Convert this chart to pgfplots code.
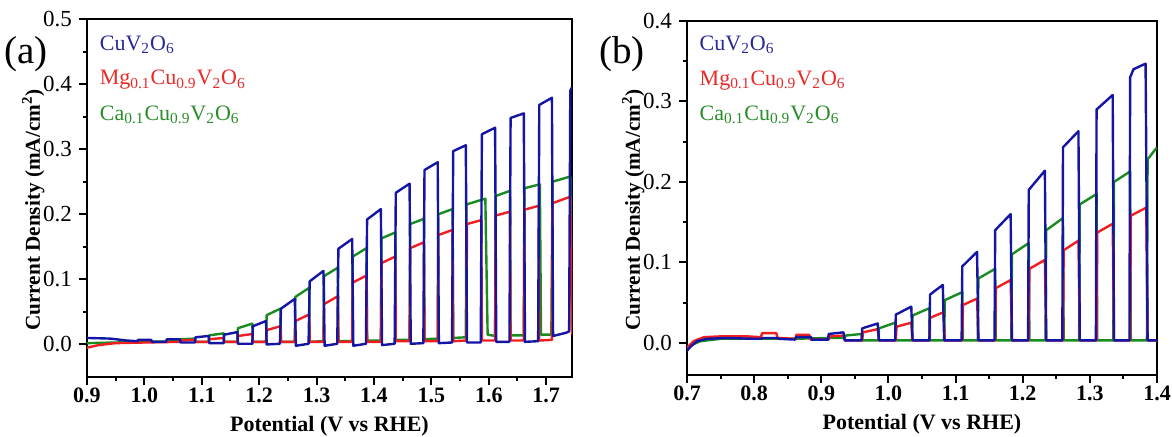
\documentclass[border=0pt]{standalone}
\usepackage{pgfplots}
\pgfplotsset{compat=1.18}
\usepackage{fontspec}
\setmainfont{Liberation Serif}
\definecolor{cblue}{RGB}{20,20,165}
\definecolor{cred}{RGB}{240,30,30}
\definecolor{cgreen}{RGB}{25,140,30}
\definecolor{tblue}{RGB}{40,40,150}
\definecolor{tred}{RGB}{235,40,40}
\definecolor{tgreen}{RGB}{40,140,40}
\pgfplotsset{
  mystyle/.style={
    scale only axis,
    axis line style={line width=1.1pt},
    tick style={black, line width=1.0pt},
    tick align=outside,
    xtick pos=bottom, ytick pos=left,
    major tick length=4pt, minor tick length=2pt,
    minor x tick num=1, minor y tick num=1,
    /pgf/number format/.cd, fixed, fixed zerofill, precision=1, assume math mode=true,
    /pgfplots/.cd,
    tick label style={font=\fontsize{11.5}{13}\selectfont},
    x tick label style={font=\fontsize{11}{13}\selectfont\bfseries, yshift=2pt},
    label style={font=\fontsize{11}{13}\selectfont\bfseries},
    xlabel style={yshift=0pt},
    ylabel style={font=\fontsize{10.6}{13}\selectfont\bfseries, yshift=-7.5pt, xshift=-6pt},
    xlabel={Potential (V vs RHE)},
    ylabel={Current Density (mA/cm\textsuperscript{2})},
    every axis plot/.append style={line width=1.2pt, no marks, line join=round},
  }
}
\begin{document}
\begin{tikzpicture}
\useasboundingbox (0,0) rectangle (586pt,218.5pt);
% ---------------- Panel (a)
\begin{axis}[mystyle,
  at={(43.5pt,30pt)}, anchor=south west,
  width=242.5pt, height=179pt,
  xmin=0.9, xmax=1.745, ymin=-0.05, ymax=0.5,
  xtick={0.9,1.0,1.1,1.2,1.3,1.4,1.5,1.6,1.7},
  ytick={0,0.1,0.2,0.3,0.4,0.5},
]
\addplot[cgreen] coordinates {
(0.900,0.002)(0.950,0.003)(1.000,0.004)(1.062,0.005)(1.063,0.008)(1.088,0.009)(1.089,0.004)
(1.112,0.004)(1.113,0.014)(1.138,0.017)(1.139,0.004)(1.162,0.004)(1.163,0.025)(1.188,0.032)
(1.189,0.004)(1.212,0.004)(1.213,0.045)(1.237,0.055)(1.238,0.004)(1.262,0.004)(1.263,0.073)
(1.287,0.087)(1.288,0.004)(1.312,0.005)(1.313,0.105)(1.337,0.118)(1.338,0.005)(1.362,0.005)
(1.363,0.135)(1.387,0.148)(1.388,0.006)(1.412,0.006)(1.413,0.163)(1.437,0.172)(1.438,0.007)
(1.462,0.007)(1.463,0.185)(1.487,0.193)(1.488,0.008)(1.511,0.009)(1.512,0.200)(1.537,0.208)
(1.538,0.010)(1.560,0.011)(1.561,0.215)(1.594,0.224)(1.598,0.015)(1.611,0.013)(1.612,0.228)
(1.637,0.236)(1.638,0.014)(1.661,0.014)(1.662,0.240)(1.689,0.246)(1.691,0.015)(1.709,0.015)
(1.711,0.250)(1.742,0.258)(1.745,0.020)
};
\addplot[cred] coordinates {
(0.900,-0.005)(0.920,-0.001)(0.950,0.002)(1.000,0.003)(1.062,0.004)(1.063,0.006)(1.088,0.007)
(1.089,0.004)(1.112,0.004)(1.113,0.008)(1.138,0.010)(1.139,0.004)(1.162,0.004)(1.163,0.013)
(1.188,0.016)(1.189,0.004)(1.212,0.004)(1.213,0.022)(1.237,0.028)(1.238,0.004)(1.262,0.004)
(1.263,0.036)(1.287,0.046)(1.288,0.004)(1.312,0.004)(1.313,0.062)(1.337,0.074)(1.338,0.004)
(1.362,0.004)(1.363,0.095)(1.387,0.106)(1.388,0.004)(1.412,0.004)(1.413,0.125)(1.437,0.135)
(1.438,0.005)(1.462,0.005)(1.463,0.148)(1.487,0.157)(1.488,0.005)(1.511,0.005)(1.512,0.168)
(1.537,0.176)(1.538,0.005)(1.561,0.006)(1.562,0.185)(1.587,0.191)(1.588,0.006)(1.611,0.006)
(1.612,0.198)(1.637,0.204)(1.638,0.006)(1.661,0.006)(1.662,0.207)(1.687,0.213)(1.688,0.006)
(1.710,0.007)(1.711,0.217)(1.742,0.227)(1.745,0.015)
};
\addplot[cblue] coordinates {
(0.900,0.010)(0.940,0.009)(0.970,0.006)(0.988,0.005)(0.989,0.007)(1.012,0.007)(1.013,0.004)
(1.038,0.004)(1.039,0.008)(1.062,0.008)(1.063,0.003)(1.088,0.003)(1.089,0.011)(1.112,0.013)
(1.113,0.002)(1.138,0.002)(1.139,0.015)(1.162,0.019)(1.163,0.001)(1.188,0.001)(1.189,0.028)
(1.212,0.036)(1.213,0.000)(1.236,0.001)(1.238,0.055)(1.262,0.070)(1.264,-0.002)(1.286,0.001)
(1.288,0.097)(1.312,0.113)(1.314,-0.002)(1.336,0.001)(1.338,0.147)(1.362,0.162)(1.364,-0.002)
(1.386,0.001)(1.388,0.192)(1.412,0.208)(1.414,-0.001)(1.436,0.001)(1.438,0.233)(1.462,0.247)
(1.464,0.001)(1.486,0.002)(1.488,0.268)(1.511,0.280)(1.513,0.002)(1.536,0.003)(1.538,0.297)
(1.560,0.306)(1.562,0.003)(1.586,0.003)(1.588,0.323)(1.611,0.333)(1.613,0.004)(1.636,0.004)
(1.638,0.348)(1.661,0.355)(1.663,0.004)(1.686,0.005)(1.688,0.368)(1.710,0.379)(1.712,0.013)
(1.735,0.018)(1.740,0.020)(1.742,0.390)(1.745,0.395)
};
\node[anchor=west, text=tblue, font=\fontsize{11}{13}\selectfont] at (rel axis cs:0.012,0.927) {CuV\textsubscript{2}O\textsubscript{6}};
\node[anchor=west, text=tred, font=\fontsize{11}{13}\selectfont] at (rel axis cs:0.012,0.830) {Mg\textsubscript{0.1}Cu\textsubscript{0.9}V\textsubscript{2}O\textsubscript{6}};
\node[anchor=west, text=tgreen, font=\fontsize{11}{13}\selectfont] at (rel axis cs:0.012,0.732) {Ca\textsubscript{0.1}Cu\textsubscript{0.9}V\textsubscript{2}O\textsubscript{6}};
\end{axis}
\node[font=\fontsize{19.5}{22}\selectfont] at (13pt,191.5pt) {(a)};
% ---------------- Panel (b)
\begin{axis}[mystyle,
  at={(343.5pt,31pt)}, anchor=south west,
  width=235pt, height=177pt,
  xmin=0.7, xmax=1.4, ymin=-0.04, ymax=0.4,
  xtick={0.7,0.8,0.9,1.0,1.1,1.2,1.3,1.4},
  ytick={0,0.1,0.2,0.3,0.4},
]
\addplot[cgreen] coordinates {
(0.700,-0.005)(0.720,0.002)(0.750,0.005)(0.800,0.005)(0.860,0.005)(0.910,0.006)(0.935,0.006)
(0.936,0.009)(0.960,0.011)(0.961,0.003)(0.985,0.003)(0.986,0.018)(1.010,0.025)(1.011,0.003)
(1.035,0.003)(1.036,0.034)(1.061,0.043)(1.062,0.003)(1.083,0.003)(1.084,0.053)(1.110,0.063)
(1.111,0.003)(1.133,0.003)(1.134,0.080)(1.159,0.092)(1.160,0.003)(1.183,0.003)(1.184,0.110)
(1.209,0.124)(1.210,0.003)(1.234,0.003)(1.235,0.140)(1.260,0.155)(1.261,0.003)(1.284,0.003)
(1.285,0.172)(1.310,0.185)(1.311,0.003)(1.335,0.003)(1.336,0.200)(1.360,0.213)(1.361,0.003)
(1.385,0.003)(1.386,0.228)(1.400,0.243)
};
\addplot[cred] coordinates {
(0.700,-0.006)(0.710,0.002)(0.725,0.007)(0.750,0.008)(0.790,0.008)(0.810,0.007)(0.812,0.012)
(0.833,0.012)(0.835,0.006)(0.862,0.005)(0.863,0.010)(0.882,0.010)(0.884,0.004)(0.911,0.004)
(0.912,0.008)(0.933,0.009)(0.935,0.003)(0.961,0.003)(0.962,0.013)(0.984,0.017)(0.986,0.003)
(1.011,0.003)(1.012,0.020)(1.034,0.025)(1.036,0.003)(1.061,0.003)(1.062,0.031)(1.082,0.038)
(1.084,0.003)(1.110,0.003)(1.111,0.047)(1.132,0.055)(1.134,0.003)(1.159,0.003)(1.160,0.068)
(1.182,0.078)(1.184,0.003)(1.209,0.003)(1.210,0.092)(1.233,0.103)(1.235,0.003)(1.260,0.003)
(1.261,0.115)(1.283,0.127)(1.285,0.003)(1.310,0.003)(1.311,0.137)(1.334,0.148)(1.336,0.003)
(1.360,0.003)(1.361,0.158)(1.384,0.168)(1.386,0.003)(1.400,0.003)
};
\addplot[cblue] coordinates {
(0.700,-0.010)(0.705,-0.005)(0.715,0.002)(0.730,0.005)(0.760,0.006)(0.800,0.005)(0.811,0.005)
(0.812,0.006)(0.835,0.006)(0.836,0.005)(0.861,0.004)(0.862,0.007)(0.885,0.007)(0.886,0.004)
(0.910,0.004)(0.911,0.011)(0.933,0.013)(0.935,0.003)(0.960,0.003)(0.961,0.018)(0.984,0.024)
(0.986,0.003)(1.010,0.003)(1.011,0.035)(1.034,0.045)(1.036,0.003)(1.061,0.003)(1.062,0.060)
(1.081,0.072)(1.083,0.003)(1.109,0.003)(1.110,0.095)(1.132,0.113)(1.134,0.003)(1.158,0.003)
(1.159,0.140)(1.182,0.160)(1.184,0.003)(1.208,0.003)(1.209,0.190)(1.233,0.214)(1.235,0.003)
(1.259,0.003)(1.260,0.243)(1.283,0.263)(1.285,0.003)(1.309,0.003)(1.310,0.290)(1.334,0.308)
(1.336,0.003)(1.359,0.003)(1.360,0.330)(1.365,0.340)(1.383,0.347)(1.386,0.003)(1.400,0.003)
};
\node[anchor=west, text=tblue, font=\fontsize{11}{13}\selectfont] at (rel axis cs:0.012,0.932) {CuV\textsubscript{2}O\textsubscript{6}};
\node[anchor=west, text=tred, font=\fontsize{11}{13}\selectfont] at (rel axis cs:0.012,0.833) {Mg\textsubscript{0.1}Cu\textsubscript{0.9}V\textsubscript{2}O\textsubscript{6}};
\node[anchor=west, text=tgreen, font=\fontsize{11}{13}\selectfont] at (rel axis cs:0.012,0.734) {Ca\textsubscript{0.1}Cu\textsubscript{0.9}V\textsubscript{2}O\textsubscript{6}};
\end{axis}
\node[font=\fontsize{19.5}{22}\selectfont] at (311pt,191.5pt) {(b)};
\end{tikzpicture}
\end{document}
